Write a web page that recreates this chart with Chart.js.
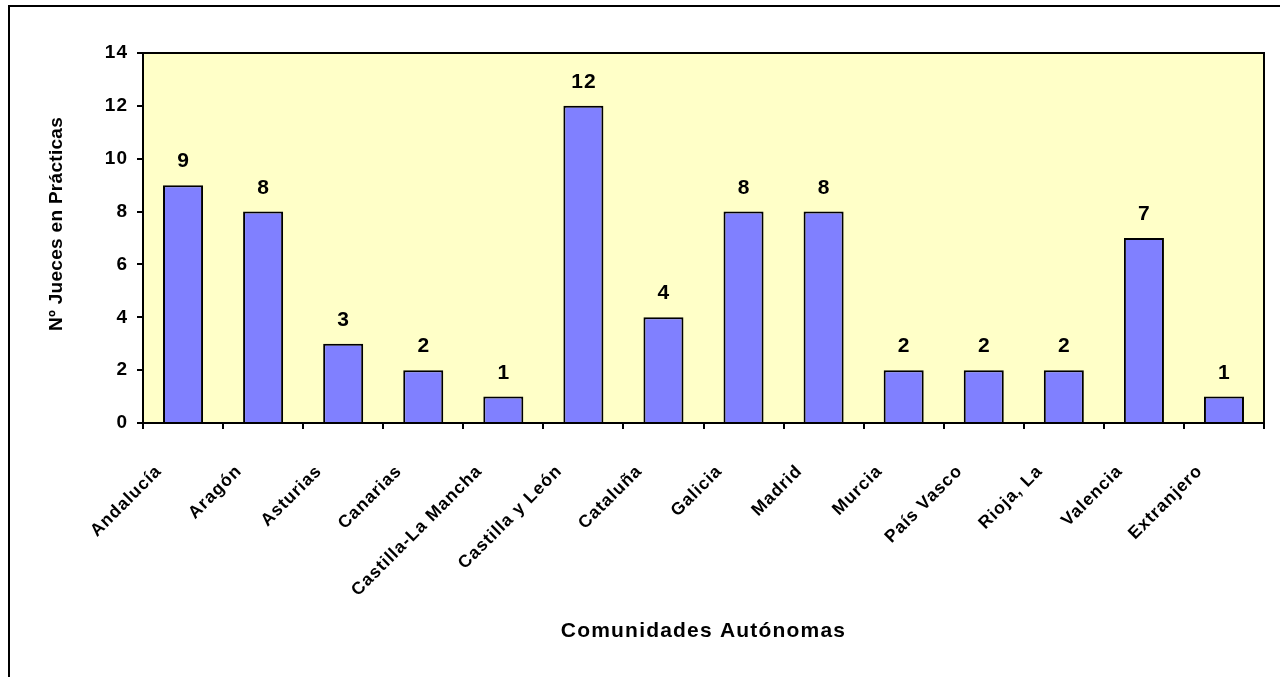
<!DOCTYPE html>
<html><head><meta charset="utf-8">
<script src="https://cdn.jsdelivr.net/npm/chart.js@4.4.1/dist/chart.umd.min.js"></script>
<style>html,body{margin:0;padding:0;background:#fff;}canvas{display:block;}</style>
</head><body>
<canvas id="c" width="1280" height="677" style="width:1280px;height:677px"></canvas>
<script>
const categories = ['Andalucía','Aragón','Asturias','Canarias','Castilla-La Mancha','Castilla y León','Cataluña','Galicia','Madrid','Murcia','País Vasco','Rioja, La','Valencia','Extranjero'];
const judges = [9, 8, 3, 2, 1, 12, 4, 8, 8, 2, 2, 2, 7, 1];
const yTickValues = [0, 2, 4, 6, 8, 10, 12, 14];
const xTitle = 'Comunidades Autónomas';
const yTitle = 'Nº Jueces en Prácticas';
const FONT = '"Liberation Sans", Arial, Helvetica, sans-serif';

const decor = {
  id: 'decor',
  beforeDraw(chart) {
    const { ctx, chartArea: a } = chart;
    ctx.save();
    ctx.fillStyle = '#fff';
    ctx.fillRect(0, 0, chart.width, chart.height);
    ctx.strokeStyle = '#000';
    ctx.lineWidth = 2;
    ctx.beginPath();
    ctx.moveTo(9, chart.height);
    ctx.lineTo(9, 6);
    ctx.lineTo(chart.width, 6);
    ctx.stroke();
    ctx.fillStyle = '#FFFFC8';
    ctx.fillRect(a.left, a.top, a.right - a.left, a.bottom - a.top);
    ctx.restore();
    ctx.letterSpacing = '1px';
  },
  afterDatasetsDraw(chart) {
    const { ctx, chartArea: a } = chart;
    ctx.save();
    ctx.strokeStyle = '#000';
    ctx.lineWidth = 2;
    ctx.strokeRect(a.left, a.top, a.right - a.left, a.bottom - a.top);
    ctx.fillStyle = '#000';
    // value labels
    ctx.letterSpacing = '1px';
    ctx.font = 'bold 21px ' + FONT;
    ctx.textAlign = 'center';
    ctx.textBaseline = 'alphabetic';
    const meta = chart.getDatasetMeta(0);
    meta.data.forEach((bar, i) => {
      ctx.fillText(String(judges[i]), bar.x + 0.5, bar.y - 18);
    });
    // x axis title
    ctx.letterSpacing = '1.2px';
    ctx.font = 'bold 21px ' + FONT;
    ctx.fillText(xTitle, (a.left + a.right) / 2, 637);
    // y axis title
    ctx.letterSpacing = '0.3px';
    ctx.font = 'bold 19px ' + FONT;
    ctx.translate(62, 224);
    ctx.rotate(-Math.PI / 2);
    ctx.fillText(yTitle, 0, 0);
    ctx.restore();
  }
};

new Chart(document.getElementById('c').getContext('2d'), {
  type: 'bar',
  data: {
    labels: categories,
    datasets: [{
      data: judges,
      backgroundColor: '#8080FF',
      borderColor: '#000',
      borderWidth: 2,
      barPercentage: 0.5,
      categoryPercentage: 1
    }]
  },
  options: {
    responsive: false,
    animation: false,
    devicePixelRatio: 1,
    layout: { padding: { top: 53, right: 16, bottom: 0, left: 0 } },
    plugins: { legend: { display: false }, tooltip: { enabled: false } },
    scales: {
      x: {
        offset: true,
        grid: { display: true, drawOnChartArea: false, drawTicks: true, tickLength: 6, color: '#000', lineWidth: 2, offset: true },
        border: { display: true, color: '#000', width: 2 },
        ticks: {
          autoSkip: false, maxRotation: 45, minRotation: 45, padding: 32, labelOffset: -24,
          color: '#000', font: { family: FONT, size: 17.5, weight: 'bold' }
        },
        afterFit(s) { s.height = 254; }
      },
      y: {
        min: 0, max: 14,
        afterBuildTicks(s) { s.ticks = yTickValues.map(v => ({ value: v })); },
        ticks: { padding: 9, color: '#000', font: { family: FONT, size: 19, weight: 'bold' } },
        grid: { drawOnChartArea: false, drawTicks: true, tickLength: 6, color: '#000', lineWidth: 2 },
        border: { display: true, color: '#000', width: 2 },
        afterFit(s) { s.width = 143; }
      }
    }
  },
  plugins: [decor]
});
</script>
</body></html>
